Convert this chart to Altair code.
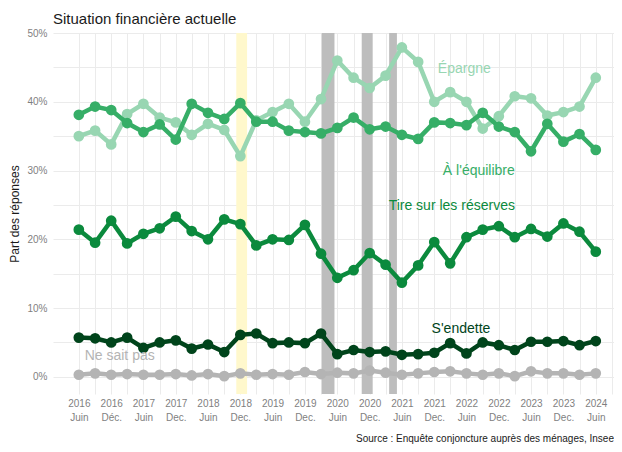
import altair as alt
import pandas as pd

# ---------------- data ----------------
dates = [
    "2016-06-01", "2016-09-01", "2016-12-01", "2017-03-01", "2017-06-01", "2017-09-01",
    "2017-12-01", "2018-03-01", "2018-06-01", "2018-09-01", "2018-12-01", "2019-03-01",
    "2019-06-01", "2019-09-01", "2019-12-01", "2020-03-01", "2020-06-01", "2020-09-01",
    "2020-12-01", "2021-03-01", "2021-06-01", "2021-09-01", "2021-12-01", "2022-03-01",
    "2022-06-01", "2022-09-01", "2022-12-01", "2023-03-01", "2023-06-01", "2023-09-01",
    "2023-12-01", "2024-03-01", "2024-06-01",
]
epargne = [35.0, 35.8, 33.8, 38.2, 39.7, 37.7, 37.0, 35.2, 36.8, 35.9, 32.1, 37.3,
           38.5, 39.7, 37.1, 40.4, 46.0, 43.5, 42.0, 43.8, 47.9, 45.8, 40.0, 41.4,
           40.0, 36.1, 37.9, 40.8, 40.5, 38.0, 38.5, 39.3, 43.5]
equilibre = [38.1, 39.3, 38.8, 36.9, 35.6, 36.7, 34.5, 39.7, 38.4, 37.5, 39.8, 37.1,
             37.1, 35.8, 35.6, 35.4, 36.2, 37.7, 36.0, 36.4, 35.2, 34.6, 37.0, 36.9,
             36.6, 38.4, 36.4, 35.6, 32.8, 36.8, 34.2, 35.3, 33.0]
reserves = [21.4, 19.5, 22.7, 19.4, 20.8, 21.6, 23.3, 21.2, 20.0, 22.9, 22.2, 19.1,
            20.0, 19.9, 22.1, 17.9, 14.4, 15.5, 18.0, 16.3, 13.7, 16.2, 19.6, 16.5,
            20.3, 21.4, 21.9, 20.3, 21.5, 20.4, 22.3, 21.1, 18.2]
endette = [5.7, 5.6, 5.0, 5.7, 4.2, 5.0, 5.3, 4.1, 4.7, 3.6, 6.1, 6.3,
           4.9, 5.0, 4.9, 6.3, 3.3, 3.9, 3.6, 3.7, 3.2, 3.3, 3.5, 4.9,
           3.4, 5.0, 4.6, 3.9, 5.1, 5.1, 5.2, 4.6, 5.2]
nsp = [0.3, 0.5, 0.3, 0.4, 0.3, 0.3, 0.4, 0.2, 0.4, 0.1, 0.5, 0.3,
       0.4, 0.3, 0.7, 0.4, 0.6, 0.5, 0.9, 0.6, 0.3, 0.5, 0.7, 0.8,
       0.5, 0.3, 0.5, 0.1, 0.8, 0.5, 0.5, 0.3, 0.5]

series_names = ["Épargne", "À l'équilibre", "Tire sur les réserves", "S'endette", "Ne sait pas"]
series_values = [epargne, equilibre, reserves, endette, nsp]
series_colors = ["#98d6b2", "#36ae67", "#0b8a3d", "#00441b", "#b4b4b4"]

# direct labels (position in data coordinates)
label_dates = ["2022-05-20", "2022-08-10", "2022-03-10", "2022-05-01", "2017-01-18"]
label_values = [44.8, 30.0, 24.9, 7.0, 3.0]

# shaded periods
band_start = ["2018-11-08", "2020-03-05", "2020-10-17", "2021-03-21"]
band_end = ["2019-01-08", "2020-05-16", "2020-12-18", "2021-05-04"]
band_kind = ["gilets", "confinement", "confinement", "confinement"]

# tick labels
tick_dates = [
    "2016-06-01", "2016-12-01", "2017-06-01", "2017-12-01", "2018-06-01", "2018-12-01",
    "2019-06-01", "2019-12-01", "2020-06-01", "2020-12-01", "2021-06-01", "2021-12-01",
    "2022-06-01", "2022-12-01", "2023-06-01", "2023-12-01", "2024-06-01",
]
tick_years = ["2016", "2016", "2017", "2017", "2018", "2018", "2019", "2019", "2020",
              "2020", "2021", "2021", "2022", "2022", "2023", "2023", "2024"]
tick_months = ["Juin", "Déc.", "Juin", "Dec.", "Juin", "Dec.", "Juin", "Dec.", "Juin",
               "Dec.", "Juin", "Dec.", "Juin", "Dec.", "Juin", "Dec.", "Juin"]

title_text = "Situation financière actuelle"
y_title = "Part des réponses"
caption = "Source : Enquête conjoncture auprès des ménages, Insee"

# ---------------- build ----------------
W, H = 561, 361
FONT = "Liberation Sans"

def dt(s):
    y, m, d = (int(p) for p in s.split("-"))
    return alt.DateTime(year=y, month=m, date=d, utc=True)

def ts(s):
    return int(pd.Timestamp(s, tz="UTC").timestamp() * 1000)

grid_dates = [d for d in dates] + ["2024-09-01"]
ts_list = "[" + ",".join(str(ts(d)) for d in tick_dates) + "]"
yrs = "[" + ",".join("'" + y + "'" for y in tick_years) + "]"
mos = "[" + ",".join("'" + m + "'" for m in tick_months) + "]"
idx = f"indexof({ts_list}, time(datum.value))"
label_expr = f"{idx} >= 0 ? [{yrs}[{idx}], {mos}[{idx}]] : ''"

x_scale = alt.Scale(type="utc", domain=[dt("2016-01-07"), dt("2024-09-12")], nice=False)
x_axis = alt.Axis(
    title=None, values=[dt(d) for d in grid_dates], labelExpr=label_expr,
    labelOverlap=False, ticks=False, domain=False, grid=True,
    gridColor="#ebebeb", gridWidth=1, labelColor="#7f7f7f", labelFontSize=10,
    labelPadding=4, labelLineHeight=14, labelFont=FONT,
)
y_scale = alt.Scale(domain=[-2.5, 50], nice=False, zero=False)
y_axis = alt.Axis(
    title=y_title, values=[0, 5, 10, 15, 20, 25, 30, 35, 40, 45, 50],
    labelExpr="datum.value % 10 == 0 ? datum.value + '%' : ''",
    ticks=False, domain=False, grid=True, gridColor="#ebebeb", gridWidth=1,
    labelColor="#7f7f7f", labelFontSize=10, labelPadding=6, labelFont=FONT,
    titleFont=FONT, titleFontSize=12, titleFontWeight="normal", titleColor="#1a1a1a",
    titlePadding=5,
)

bands_df = pd.DataFrame({"start": band_start, "end": band_end, "kind": band_kind})
bands = alt.Chart(bands_df).mark_rect().encode(
    x=alt.X("start:T", scale=x_scale, axis=x_axis),
    x2="end:T",
    color=alt.Color("kind:N", scale=alt.Scale(domain=["gilets", "confinement"],
                                              range=["#fff8cc", "#bdbdbd"]), legend=None),
)

layers = [bands]
for name, vals, col in zip(series_names, series_values, series_colors):
    df = pd.DataFrame({"date": dates, "value": vals, "serie": name})
    base = alt.Chart(df).encode(
        x=alt.X("date:T", scale=x_scale, axis=x_axis),
        y=alt.Y("value:Q", scale=y_scale, axis=y_axis),
    )
    layers.append(base.mark_line(color=col, strokeWidth=4.5))
    layers.append(base.mark_circle(color=col, size=115, opacity=1))

lab_df = pd.DataFrame({"date": label_dates, "value": label_values,
                       "label": series_names, "col": series_colors})
labels = alt.Chart(lab_df).mark_text(font=FONT, fontSize=14, align="center",
                                     baseline="middle").encode(
    x=alt.X("date:T", scale=x_scale, axis=x_axis),
    y=alt.Y("value:Q", scale=y_scale, axis=y_axis),
    text="label:N",
    color=alt.Color("col:N", scale=None),
)
layers.append(labels)

cap = alt.Chart(pd.DataFrame({"t": [caption]})).mark_text(
    font=FONT, fontSize=10, align="right", baseline="alphabetic", color="#1a1a1a"
).encode(x=alt.value(W), y=alt.value(409), text="t:N")
layers.append(cap)

chart = alt.layer(*layers).properties(
    width=W, height=H,
    title=alt.TitleParams(title_text, anchor="start", frame="group", fontSize=15,
                          fontWeight="normal", font=FONT, color="#1a1a1a",
                          offset=1),
    autosize=alt.AutoSizeParams(type="none"),
    padding={"left": 45, "top": 25, "right": 0, "bottom": 50},
).configure_view(stroke=None)

chart.save("out.html", embed_options={"renderer": "svg", "actions": False})
